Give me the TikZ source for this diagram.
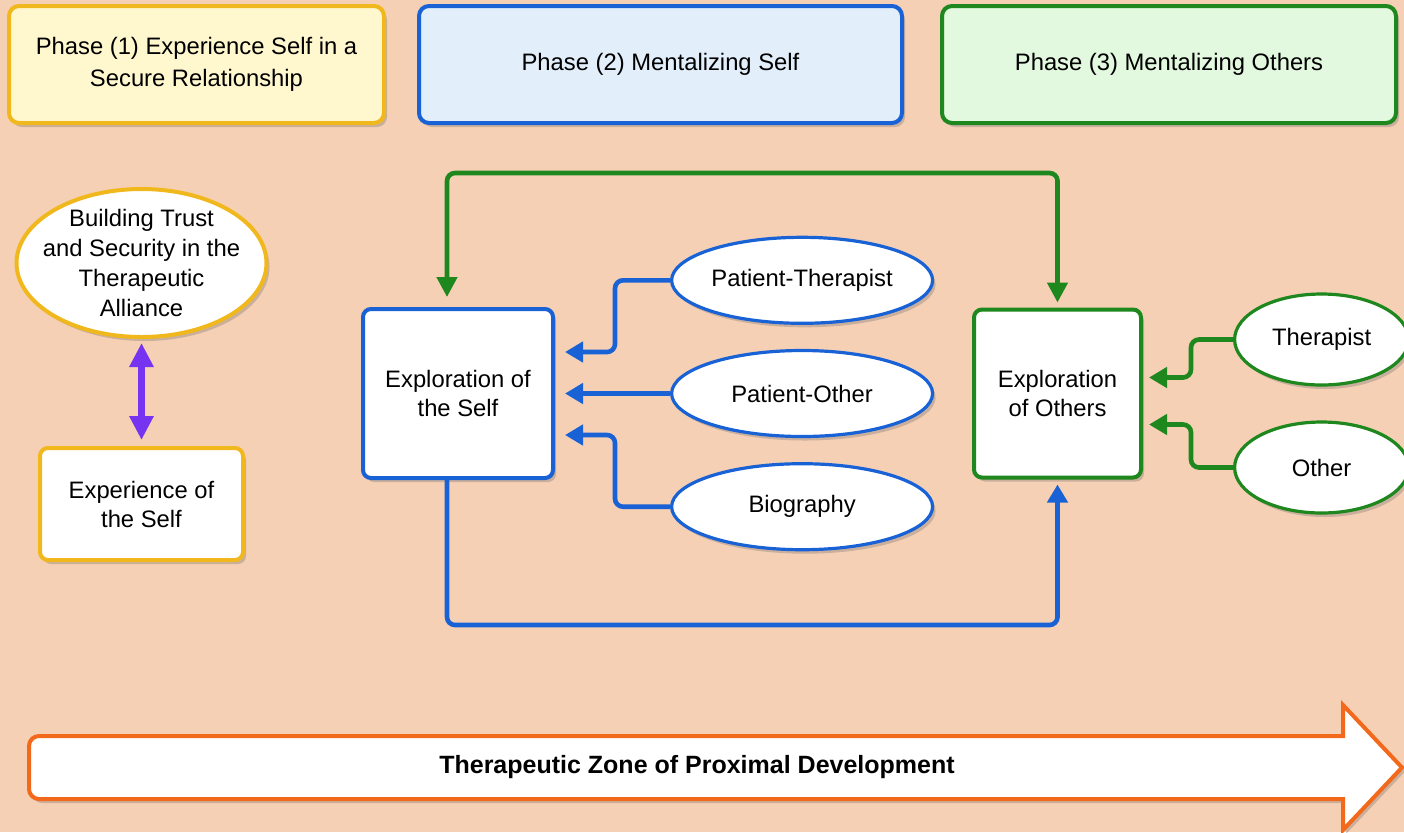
\documentclass[tikz,border=0pt]{standalone}
\usepackage{fontspec}
\setmainfont{Liberation Sans}
\usetikzlibrary{positioning,shapes.geometric,arrows.meta,shadows}

\definecolor{bgpeach}{RGB}{246,208,180}
\definecolor{goldline}{RGB}{240,184,28}
\definecolor{paleyellow}{RGB}{255,247,206}
\definecolor{blueline}{RGB}{24,98,214}
\definecolor{paleblue}{RGB}{227,238,251}
\definecolor{greenline}{RGB}{30,135,30}
\definecolor{palegreen}{RGB}{226,248,223}
\definecolor{violetline}{RGB}{118,52,240}
\definecolor{orangeline}{RGB}{243,105,28}

\tikzset{
  softshade/.style={drop shadow={shadow xshift=1.5pt,shadow yshift=-2pt,opacity=0.3,fill=black!60}},
  phasebox/.style={draw,line width=2pt,rounded corners=5pt,minimum height=58.5pt,align=center,
    font=\fontsize{11.9}{16}\selectfont,softshade},
  mainbox/.style={draw,fill=white,line width=2pt,rounded corners=4pt,align=center,
    font=\fontsize{11.9}{14.5}\selectfont,softshade},
  oval/.style={draw,ellipse,fill=white,line width=1.6pt,inner sep=0pt,align=center,
    font=\fontsize{11.9}{15}\selectfont,softshade},
  link/.style={line width=2.3pt,rounded corners=4pt,-{Triangle[width=10pt,length=9pt]}},
}

\begin{document}
\begin{tikzpicture}[x=0.5pt,y=-0.5pt]
\useasboundingbox (0,0) rectangle (1404,832);
\fill[bgpeach] (0,0) rectangle (1404,832);

\node[phasebox,fill=paleyellow,draw=goldline,minimum width=187.5pt](ph1) at (196.5,64.5){Phase (1) Experience Self in a\\Secure Relationship};
\node[phasebox,fill=paleblue,draw=blueline,minimum width=241.5pt,right=15.5pt of ph1](ph2){Phase (2) Mentalizing Self};
\node[phasebox,fill=palegreen,draw=greenline,minimum width=227pt,right=18pt of ph2](ph3){Phase (3) Mentalizing Others};

\node[oval,draw=goldline,line width=2pt,minimum width=125pt,minimum height=74pt,inner xsep=-8pt,inner ysep=-6pt](trust) at (141.5,263){Building Trust\\and Security in the\\Therapeutic\\Alliance};
\node[mainbox,draw=goldline,minimum width=101.5pt,minimum height=56pt,below=53.5pt of trust](expself){Experience of\\the Self};
\draw[violetline,line width=3.5pt,{Triangle[width=11.5pt,length=12pt]}-{Triangle[width=11.5pt,length=12pt]},shorten <=2pt,shorten >=3pt] (trust) -- (expself);

\node[mainbox,draw=blueline,minimum width=95pt,minimum height=84.5pt](explself) at (458,393.5){Exploration of\\the Self};
\node[mainbox,draw=greenline,minimum width=83.5pt,minimum height=84pt,right=208.5pt of explself](explothers){Exploration\\of Others};

\node[oval,draw=blueline,minimum width=130.5pt,minimum height=43pt,right=57.5pt of explself](patoth){Patient-Other};
\node[oval,draw=blueline,minimum width=130.5pt,minimum height=43pt,above=12pt of patoth](patther){Patient-Therapist};
\node[oval,draw=blueline,minimum width=130.5pt,minimum height=43pt,below=12pt of patoth](bio){Biography};

\node[oval,draw=greenline,minimum width=87pt,minimum height=45.5pt,right=45pt of explothers,yshift=27pt](ther){Therapist};
\node[oval,draw=greenline,minimum width=87pt,minimum height=45.5pt,right=45pt of explothers,yshift=-37pt](oth){Other};

\draw[link,blueline,shorten >=5pt] (patther.west) -- ++(-27.5pt,0) |- ([yshift=20.75pt]explself.east);
\draw[link,blueline,shorten >=5pt] (patoth) -- (explself);
\draw[link,blueline,shorten >=5pt] (bio.west) -- ++(-27.5pt,0) |- ([yshift=-20.75pt]explself.east);

\draw[link,greenline,shorten >=3pt] (ther.west) -- ++(-21pt,0) |- ([yshift=8pt]explothers.east);
\draw[link,greenline,shorten >=3pt] (oth.west) -- ++(-21pt,0) |- ([yshift=-15.5pt]explothers.east);

\draw[link,greenline,{Triangle[width=10pt,length=10pt]}-{Triangle[width=10pt,length=10pt]},shorten <=5pt,shorten >=2.5pt] ([xshift=-5.5pt]explself.north) -- ++(0,67pt) -| (explothers.north);
\draw[link,blueline,shorten >=2.5pt] ([xshift=-5.5pt]explself.south) -- ++(0,-72.5pt) -| (explothers.south);

\filldraw[fill=white,draw=orangeline,line width=2pt,softshade] [rounded corners=5pt] (700,736) -- (29,736) -- (29,799) -- (700,799) [sharp corners] -- (1343,799) -- (1343,830) -- (1402,767.5) -- (1343,705) -- (1343,736) -- cycle;
\node[font=\bfseries\fontsize{12.5}{15}\selectfont](zpd) at (697,767.5){Therapeutic Zone of Proximal Development};

\end{tikzpicture}
\end{document}
